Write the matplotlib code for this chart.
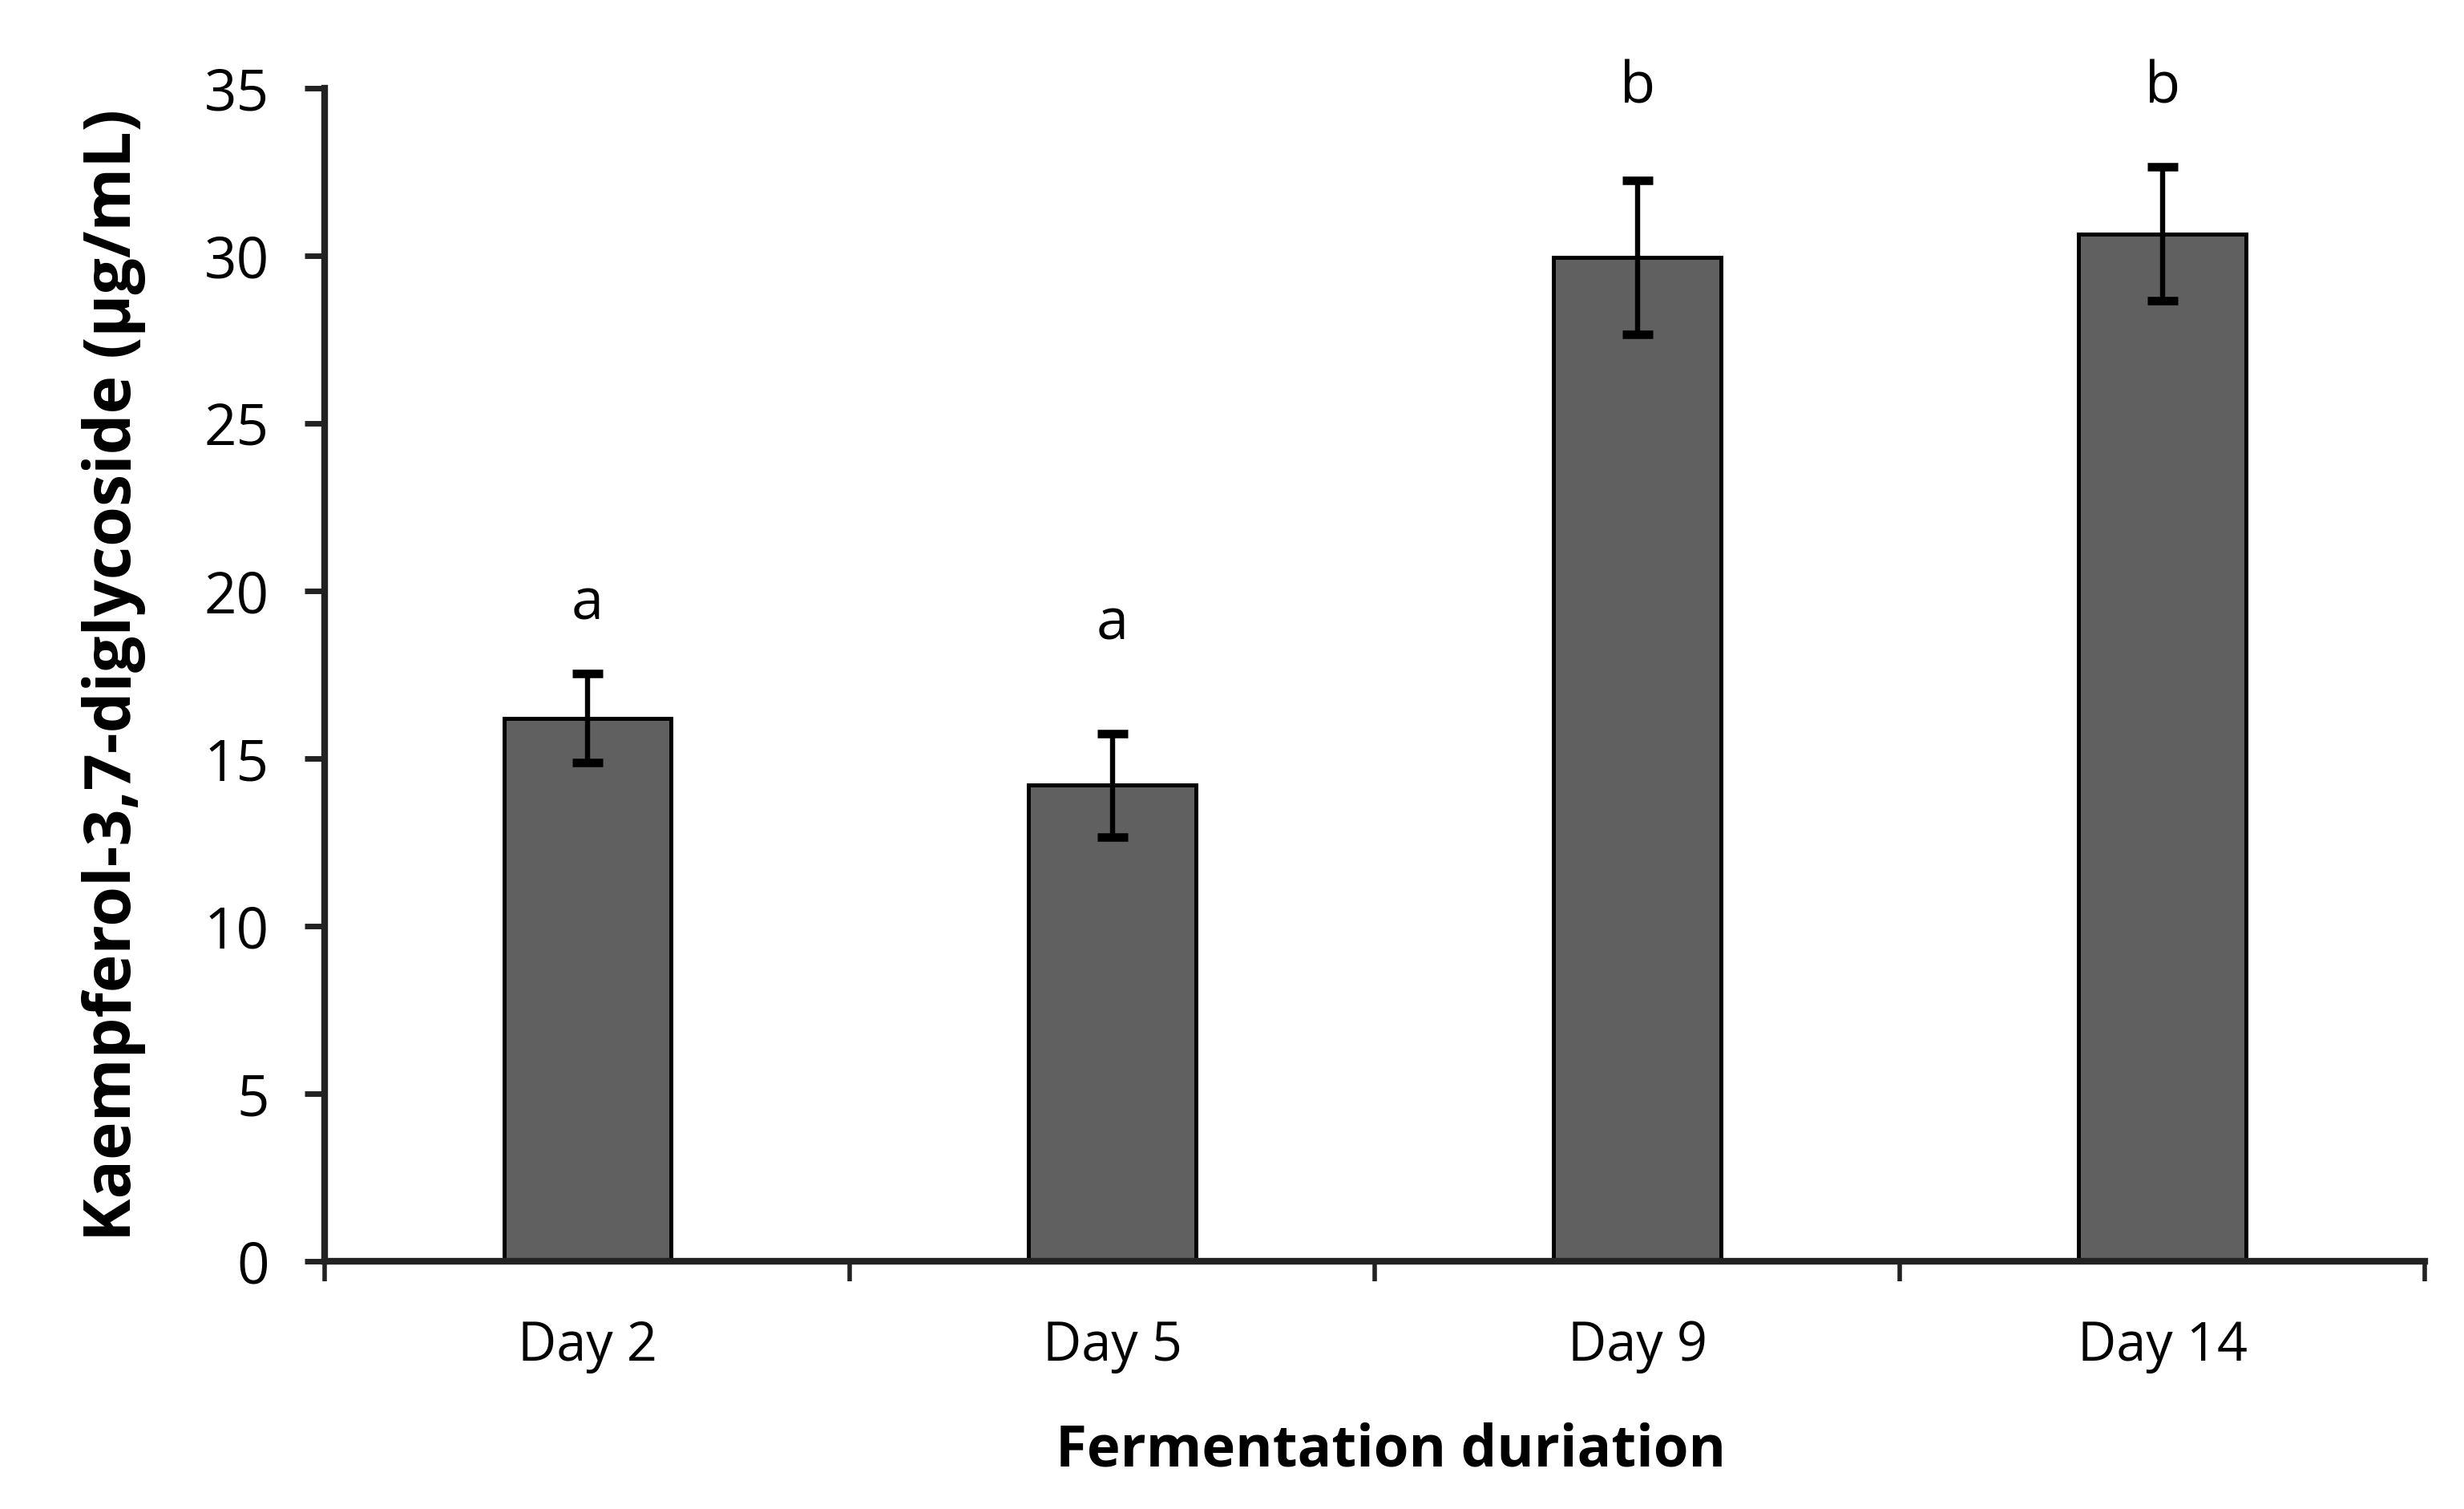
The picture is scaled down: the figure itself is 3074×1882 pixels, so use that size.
import matplotlib
matplotlib.use("Agg")
import matplotlib.pyplot as plt
import numpy as np

# data
days = ["Day 2", "Day 5", "Day 9", "Day 14"]
means = [16.2, 14.2, 29.95, 30.65]
errors = [1.33, 1.55, 2.3, 2.0]
letters = ["a", "a", "b", "b"]
letter_y = [19.6, 19.0, 35.0, 35.0]

plt.rcParams['font.family'] = ['Open Sans', 'DejaVu Sans']

fig = plt.figure(figsize=(15.37, 9.41), dpi=200)
ax = fig.add_axes([0.1318, 0.1642, 0.8523, 0.7774])

x = np.arange(len(days))
ax.bar(x, means, width=0.318, color='#606060', edgecolor='black', linewidth=1.8, zorder=2)
ax.errorbar(x, means, yerr=errors, fmt='none', ecolor='black', elinewidth=2.3,
            capsize=7, capthick=3.8, zorder=3)

# significance letters
for xi, yi, t in zip(x, letter_y, letters):
    ax.text(xi, yi, t, ha='center', va='center', fontsize=26)

ax.set_xlim(-0.5, len(days) - 0.5)
ax.set_ylim(0, 35)
ax.set_yticks(np.arange(0, 36, 5))

# x ticks sit between categories, labels at the centres
ax.set_xticks(np.arange(-0.5, len(days), 1.0))
ax.set_xticklabels([])
ax.set_xticks(x, minor=True)
ax.set_xticklabels(days, minor=True, fontsize=24)
ax.tick_params(axis='x', which='minor', length=0, pad=26)
ax.tick_params(axis='x', which='major', direction='out', length=9, width=2, color='#222222')
ax.tick_params(axis='y', direction='out', length=9, width=2.5, color='#222222',
               labelsize=25.5, pad=16)

for side in ['top', 'right']:
    ax.spines[side].set_visible(False)
for side in ['left', 'bottom']:
    ax.spines[side].set_linewidth(3)
    ax.spines[side].set_color('#222222')

ax.set_xlabel('Fermentation duriation', fontsize=25.5, fontweight='bold', labelpad=22)
ax.xaxis.label.set_x(0.5076)
ax.set_ylabel('Kaempferol-3,7-diglycoside (µg/mL)', fontsize=29, fontweight='bold', labelpad=26)

fig.savefig('out.png', dpi=200)
